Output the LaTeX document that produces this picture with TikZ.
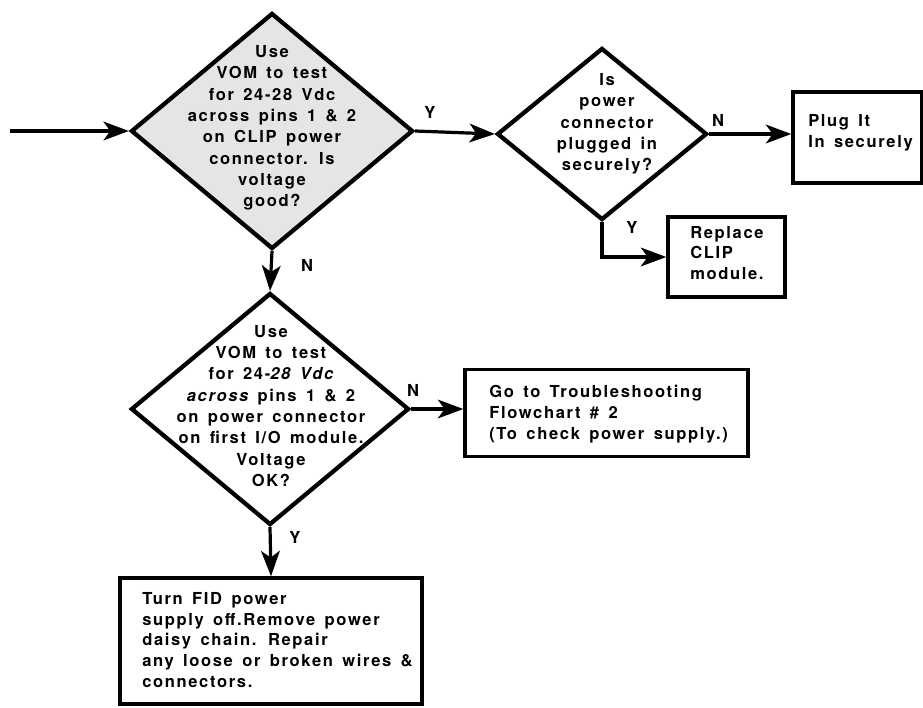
\documentclass[tikz,border=0pt]{standalone}
\usepackage{fontspec}
\setmainfont{TeX Gyre Heros}[LetterSpace=10, WordSpace=1.5]
\usetikzlibrary{shapes.geometric, arrows.meta}

\tikzset{
  txt/.style={font=\bfseries\fontsize{12.4}{16}\selectfont, inner sep=0pt},
  dtext/.style={txt, align=center},
  btext/.style={txt, align=left, anchor=west, font=\bfseries\fontsize{12.4}{15.5}\selectfont},
  lbl/.style={txt},
  decision/.style={diamond, draw, line width=3.2pt, inner sep=0pt, line join=miter},
  actbox/.style={rectangle, draw, line width=2.6pt, inner sep=0pt},
  conn/.style={line width=2.4pt, -{Stealth[length=19pt, width=14pt, inset=5pt]}},
}

\begin{document}
\begin{tikzpicture}[x=0.75pt, y=-0.75pt]
\useasboundingbox (0,0) rectangle (923,707);

% decision diamonds
\node[decision, fill=black!10, minimum width=211.5pt, minimum height=177pt] (d1) at (272,131) {};
\node[dtext] (d1t) at (272,128) {Use\\VOM to test\\for 24-28 Vdc\\across pins 1 \& 2\\on CLIP power\\connector. Is\\voltage\\good?};

\node[decision, minimum width=157.5pt, minimum height=129pt] (d2) at (602,134) {};
\node[dtext] (d2t) at (607,124) {Is\\power\\connector\\plugged in\\securely?};

\node[decision, minimum width=208.5pt, minimum height=174pt] (d3) at (270,409) {};
\node[dtext] (d3t) at (271,406) {Use\\VOM to test\\for 24-{\itshape 28 Vdc}\\{\itshape across} pins 1 \& 2\\on power connector\\on first I/O module.\\Voltage\\OK?};

% action boxes
\node[actbox, minimum width=96.75pt, minimum height=68.25pt] (plug) at (857.5,137.5) {};
\node[btext] (plugt) at (808,133) {Plug It\\In securely};

\node[actbox, minimum width=87.75pt, minimum height=60pt] (rep) at (726.5,257) {};
\node[btext] (rept) at (690,253) {Replace\\CLIP\\module.};

\node[actbox, minimum width=212.25pt, minimum height=65.25pt] (go) at (606.5,413) {};
\node[btext] (got) at (489,414) {Go to Troubleshooting\\Flowchart \# 2\\(To check power supply.)};

\node[actbox, minimum width=226.5pt, minimum height=94.5pt] (fix) at (271,641) {};
\node[btext] (fixt) at (142,640) {Turn FID power\\supply off.Remove power\\daisy chain. Repair\\any loose or broken wires \&\\connectors.};

% branch labels
\node[lbl] (y1) at (430,112) {Y};
\node[lbl] (n1) at (307,265) {N};
\node[lbl] (n2) at (718,120) {N};
\node[lbl] (y2) at (632,227) {Y};
\node[lbl] (n3) at (413,390) {N};
\node[lbl] (y3) at (295,537) {Y};

% connectors
\coordinate (start) at (10,131);
\draw[conn] (start) -- (d1.west);
\draw[conn] (d1.east) -- (d2.west);
\draw[conn] (d2.east) -- (d2.east -| plug.west);
\draw[conn] (d2.south) |- (rep.west);
\draw[conn] (d1.south) -- (d3.north);
\draw[conn] (d3.east) -- (d3.east -| go.west);
\draw[conn] (d3.south) -- (fix.north);
\end{tikzpicture}
\end{document}
